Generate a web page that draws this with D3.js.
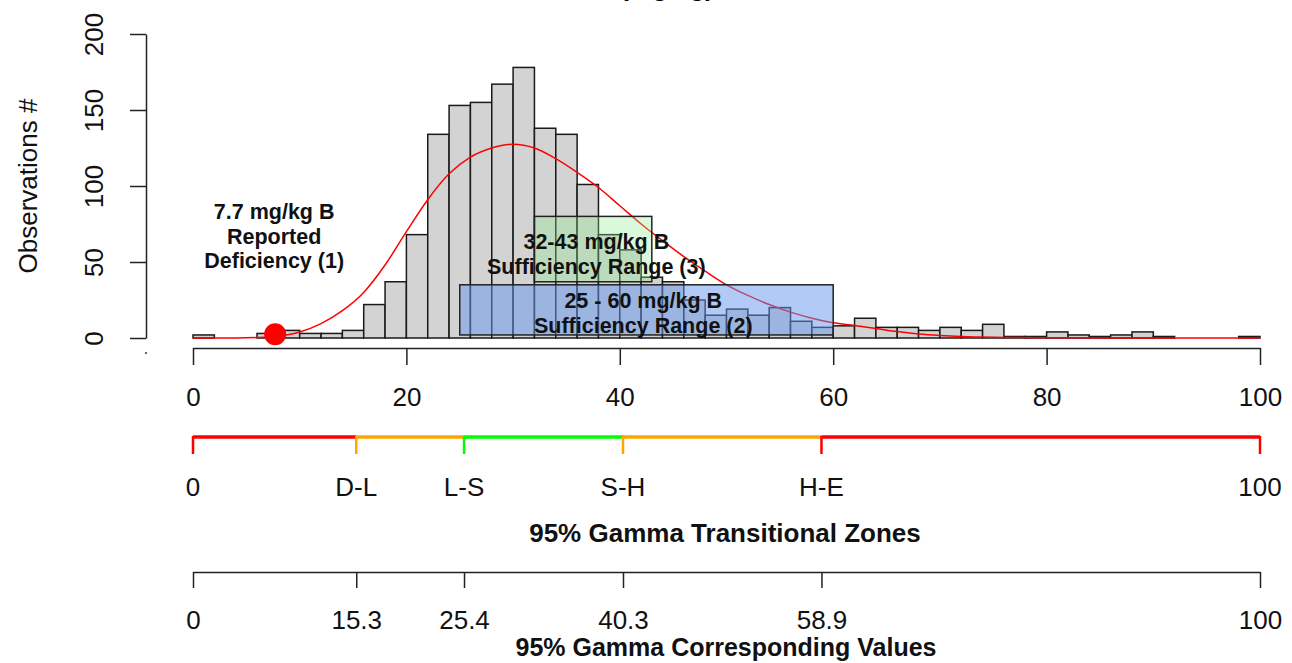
<!DOCTYPE html>
<html>
<head>
<meta charset="utf-8">
<script src="https://cdn.jsdelivr.net/npm/d3@7"></script>
<style>
  html, body { margin: 0; padding: 0; background: #fff; }
  svg { display: block; font-family: "Liberation Sans", Arial, Helvetica, sans-serif; }
</style>
</head>
<body>
<svg id="chart" width="1292" height="663"></svg>
<script>
// ---------- data ----------
const binLo = [0,2,4,6,8,10,12,14,16,18,20,22,24,26,28,30,32,34,36,38,40,42,44,46,48,
               50,52,54,56,58,60,62,64,66,68,70,72,74,76,78,80,82,84,86,88,90,92,94,96,98];
const binWidth = 2;
const counts = [2,0,0,3,5,3,3,5,22,37,
                68,134,153,155,167,178,138,134,101,68,
                58,40,37,25,15,19,15,20,11,7,
                8,13,7,7,5,7,5,9,1,1,
                4,2,1,2,4,1,0,0,0,1];

const curveX = [0,4,6,8,10,12,14,16,18,20,22,24,26,28,30,32,34,36,38,40,42,44,46,48,50,
                52,54,56,58,60,62,64,66,68,70,72,76,80,100];
const curveY = [0,0,0.3,1.3,4,9.5,18,30,48,70,91,108,119,125,127.5,125,118,109,99,87,75,64,53.5,44,35,
                28,22,17,13,10,8.3,6.3,4.2,2.7,1.7,1,0.4,0.1,0];

const deficiencyPoint = {x: 7.7, y: 2.5};
const deficiencyLabel = ["7.7 mg/kg B", "Reported", "Deficiency (1)"];

const rangeBoxes = [
  {x0: 25, x1: 60, y0: 2, y1: 35, fill: "rgba(100,149,237,0.5)",
   labelX: 42.2, labelY: [308, 333], label: ["25 - 60 mg/kg B", "Sufficiency Range (2)"]},
  {x0: 32, x1: 43, y0: 37, y1: 80, fill: "rgba(144,238,144,0.33)",
   labelX: 37.8, labelY: [249, 274], label: ["32-43 mg/kg B", "Sufficiency Range (3)"]}
];

const xTicks = [0,20,40,60,80,100];
const yTicks = [0,50,100,150,200];

const zoneBreaks = [0,15.3,25.4,40.3,58.9,100];
const zoneLabels = ["0","D-L","L-S","S-H","H-E","100"];
const zoneColors = ["#ff0000","#ffa500","#00ff00","#ffa500","#ff0000"];
const zoneTickColors = ["#ff0000","#ffa500","#00ff00","#ffa500","#ff0000","#ff0000"];
const valueLabels = ["0","15.3","25.4","40.3","58.9","100"];

// ---------- setup ----------
const svg = d3.select("#chart");
svg.append("rect").attr("width",1292).attr("height",663).attr("fill","#fff");

const x = d3.scaleLinear().domain([0,100]).range([193,1260]);
const y = d3.scaleLinear().domain([0,200]).range([338,34]);

// clipped title (almost entirely above the picture, as in the reference)
svg.append("text").attr("x", 714).attr("y", -4).attr("text-anchor","end")
  .attr("font-size", 26).attr("font-weight","bold").text("Soil Boron, (mg/kg)");

// histogram
svg.append("g").selectAll("rect").data(counts).join("rect")
  .attr("x", (d,i) => x(binLo[i]))
  .attr("width", (d,i) => x(binLo[i] + binWidth) - x(binLo[i]))
  .attr("y", d => y(d))
  .attr("height", d => y(0) - y(d))
  .attr("fill", "#d3d3d3")
  .attr("stroke", "#1a1a1a")
  .attr("stroke-width", 1.5);

// fitted curve
const line = d3.line().x(d => x(d[0])).y(d => y(d[1])).curve(d3.curveMonotoneX);
svg.append("path").datum(curveX.map((v,i) => [v, curveY[i]]))
  .attr("d", line).attr("fill","none").attr("stroke","#ff0000").attr("stroke-width",1.5);

// deficiency point
svg.append("circle").attr("cx", x(deficiencyPoint.x)).attr("cy", y(deficiencyPoint.y))
  .attr("r", 11).attr("fill", "#ff0000");

// range boxes
rangeBoxes.forEach(b => {
  svg.append("rect")
    .attr("x", x(b.x0)).attr("width", x(b.x1) - x(b.x0))
    .attr("y", y(b.y1)).attr("height", y(b.y0) - y(b.y1))
    .attr("fill", b.fill).attr("stroke", "#222").attr("stroke-width", 1.5);
});
rangeBoxes.forEach(b => {
  b.label.forEach((t,i) => {
    svg.append("text").attr("x", x(b.labelX)).attr("y", b.labelY[i])
      .attr("text-anchor","middle").attr("font-size", 21.5).attr("font-weight","bold")
      .attr("fill","#111").text(t);
  });
});

// deficiency label
const defBase = [219, 244, 268];
deficiencyLabel.forEach((t,i) => {
  svg.append("text").attr("x", x(deficiencyPoint.x) - 1).attr("y", defBase[i])
    .attr("text-anchor","middle").attr("font-size", 21.5).attr("font-weight","bold")
    .attr("fill","#111").text(t);
});

// y axis
const yAxis = svg.append("g").attr("transform","translate(146,0)")
  .call(d3.axisLeft(y).tickValues(yTicks).tickSize(16).tickSizeOuter(0));
yAxis.select(".domain").attr("stroke","#222").attr("stroke-width",1.5);
yAxis.selectAll(".tick line").attr("stroke","#222").attr("stroke-width",1.5);
yAxis.selectAll(".tick text")
  .attr("transform","rotate(-90)").attr("x",0).attr("y",-43).attr("dy",0)
  .attr("text-anchor","middle").attr("font-size",26).attr("fill","#111");
svg.append("text").attr("transform","translate(37,186) rotate(-90)")
  .attr("text-anchor","middle").attr("font-size",26).attr("fill","#111").text("Observations #");
svg.append("circle").attr("cx",146).attr("cy",353).attr("r",1).attr("fill","#333");

// main x axis
const xAxis = svg.append("g").attr("transform","translate(0,348)")
  .call(d3.axisBottom(x).tickValues(xTicks).tickSize(17).tickSizeOuter(0));
xAxis.select(".domain").attr("stroke","#222").attr("stroke-width",1.5);
xAxis.selectAll(".tick line").attr("stroke","#222").attr("stroke-width",1.5);
xAxis.selectAll(".tick text").attr("y",58).attr("dy",0)
  .attr("font-size",26).attr("fill","#111");

// transitional zones axis
const zy = 437;
const zg = svg.append("g");
zoneColors.forEach((c,i) => {
  zg.append("line").attr("x1", x(zoneBreaks[i])).attr("x2", x(zoneBreaks[i+1]))
    .attr("y1", zy).attr("y2", zy).attr("stroke", c).attr("stroke-width", 3.5);
});
zoneBreaks.forEach((v,i) => {
  zg.append("line").attr("x1", x(v)).attr("x2", x(v)).attr("y1", zy - 1).attr("y2", zy + 17)
    .attr("stroke", zoneTickColors[i]).attr("stroke-width", 2.5);
  zg.append("text").attr("x", x(v)).attr("y", 496).attr("text-anchor","middle")
    .attr("font-size",26).attr("fill","#111").text(zoneLabels[i]);
});
svg.append("text").attr("x", 725).attr("y", 542).attr("text-anchor","middle")
  .attr("font-size",26).attr("font-weight","bold").attr("fill","#111")
  .text("95% Gamma Transitional Zones");

// corresponding values axis
const vAxis = svg.append("g").attr("transform","translate(0,572)")
  .call(d3.axisBottom(x).tickValues(zoneBreaks).tickSize(16).tickSizeOuter(0)
    .tickFormat((d,i) => valueLabels[i]));
vAxis.select(".domain").attr("stroke","#222").attr("stroke-width",1.5);
vAxis.selectAll(".tick line").attr("stroke","#222").attr("stroke-width",1.5);
vAxis.selectAll(".tick text").attr("y",57).attr("dy",0)
  .attr("font-size",26).attr("fill","#111");
svg.append("text").attr("x", 726).attr("y", 656).attr("text-anchor","middle")
  .attr("font-size",25).attr("font-weight","bold").attr("fill","#111")
  .text("95% Gamma Corresponding Values");
</script>
</body>
</html>
